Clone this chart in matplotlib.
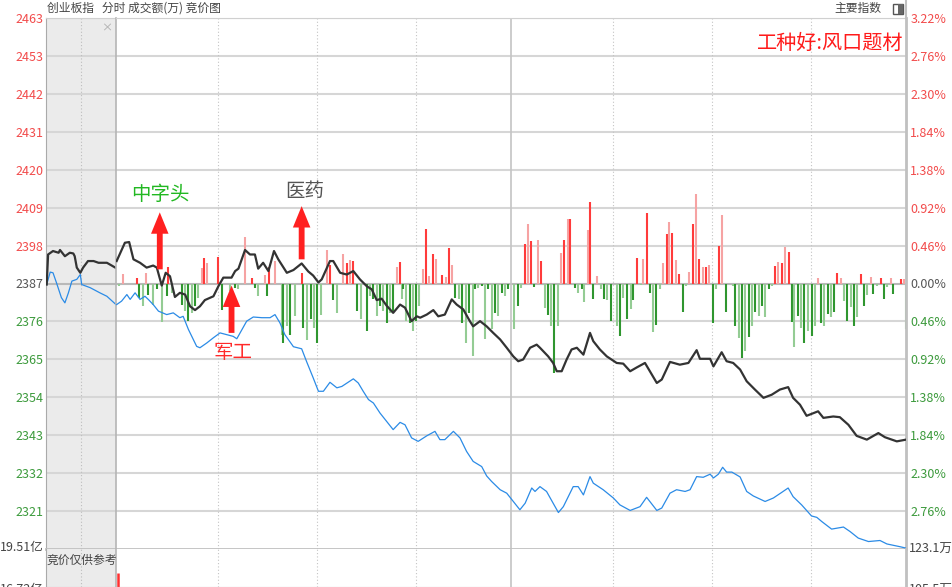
import numpy as np
import matplotlib
matplotlib.use("Agg")
import matplotlib.pyplot as plt
from matplotlib.patches import Rectangle
from matplotlib.lines import Line2D

plt.rcParams['font.family'] = ['Noto Sans CJK SC', 'DejaVu Sans']

W, H = 953, 587

pre_close = 2387.0
step = 10.98

left_labels = ['2463', '2453', '2442', '2431', '2420', '2409', '2398', '2387',
               '2376', '2365', '2354', '2343', '2332', '2321']
right_labels = ['3.22%', '2.76%', '2.30%', '1.84%', '1.38%', '0.92%', '0.46%', '0.00%',
                '0.46%', '0.92%', '1.38%', '1.84%', '2.30%', '2.76%']

# 集合竞价 9:15-9:25, minutes 0-10
auc_t = [0.1, 0.3, 1.0, 1.8, 2.0, 2.7, 3.4, 3.9, 4.1, 4.4, 4.9, 5.3, 6.0, 6.8, 7.5, 8.7, 9.9]
auc_price = [2386.7, 2395.4, 2396.4, 2395.9, 2396.7, 2394.9, 2395.9, 2395.7, 2394.9, 2391.6,
             2390.1, 2391.6, 2393.5, 2393.5, 2393.0, 2393.0, 2391.6]
auc_blue_t = [0.1, 0.6, 1.0, 1.5, 2.2, 2.7, 3.2, 3.7, 4.4, 4.9, 5.1, 6.3, 7.7, 8.7, 10.0]
auc_blue = [2386.7, 2390.3, 2390.1, 2387.2, 2382.9, 2381.4, 2384.3, 2387.7, 2388.2, 2389.6,
            2386.7, 2385.8, 2384.3, 2383.3, 2380.9]

# 分时 minutes 0-240
t_price = [0.2, 2.7, 4.0, 5.3, 7.3, 9.3, 11.3, 12.4, 13.9, 15.1,
           16.4, 17.9, 19.4, 21.0, 22.5, 24.0, 25.5, 27.0, 29.6, 31.1,
           32.6, 35.1, 36.2, 37.2, 39.2, 40.7, 42.2, 43.2, 44.7, 46.3,
           48.0, 49.3, 51.9, 53.9, 56.4, 58.4, 59.9, 61.5, 62.5, 65.0,
           66.0, 68.1, 70.1, 72.1, 74.1, 76.2, 77.7, 79.2, 80.7, 82.2,
           84.2, 86.3, 87.8, 89.8, 91.4, 92.4, 94.4, 96.4, 97.9, 99.9,
           102.0, 103.5, 105.5, 107.5, 108.5, 110.6, 112.6, 114.6, 116.7, 118.7,
           120.7, 122.2, 123.7, 125.8, 127.8, 128.8, 131.3, 132.8, 133.9, 135.4,
           136.9, 138.4, 140.0, 142.0, 144.0, 145.0, 147.0, 149.1, 152.1, 154.1,
           156.2, 158.2, 160.7, 164.3, 165.8, 168.3, 171.3, 173.9, 176.4, 177.4,
           180.5, 181.5, 184.0, 185.5, 187.5, 189.6, 191.6, 194.1, 196.7, 199.2,
           201.7, 204.2, 205.7, 207.8, 209.8, 213.3, 214.9, 217.9, 219.9, 222.5,
           225.0, 228.1, 231.6, 233.6, 237.2, 240.0]
price = [2393.5, 2398.8, 2399.0, 2394.0, 2393.0, 2391.6, 2392.2, 2391.6, 2386.4, 2390.1,
         2389.1, 2383.1, 2384.3, 2383.8, 2380.4, 2379.3, 2380.4, 2382.2, 2383.3, 2386.2,
         2388.7, 2388.7, 2390.6, 2391.3, 2396.7, 2395.4, 2395.4, 2391.3, 2393.0, 2390.6,
         2396.4, 2394.0, 2390.1, 2390.9, 2392.8, 2390.5, 2389.3, 2387.3, 2388.2, 2393.5,
         2393.5, 2390.1, 2389.6, 2390.6, 2388.2, 2386.2, 2385.3, 2382.2, 2382.6, 2380.6,
         2378.5, 2380.9, 2380.0, 2376.1, 2377.5, 2377.1, 2378.0, 2379.3, 2377.5, 2378.0,
         2382.4, 2380.9, 2379.5, 2376.1, 2374.6, 2376.1, 2374.6, 2372.7, 2370.8, 2368.4,
         2365.9, 2364.5, 2365.0, 2368.4, 2369.3, 2368.4, 2365.9, 2364.0, 2361.6, 2361.6,
         2365.0, 2367.9, 2368.4, 2366.4, 2372.7, 2370.3, 2367.9, 2365.9, 2364.0, 2363.8,
         2361.6, 2362.7, 2364.0, 2358.2, 2359.2, 2364.3, 2363.5, 2364.0, 2367.7, 2365.2,
         2365.2, 2363.0, 2367.1, 2364.5, 2364.0, 2362.1, 2358.7, 2356.3, 2353.9, 2354.8,
         2356.3, 2357.0, 2353.9, 2351.9, 2348.7, 2350.0, 2348.1, 2348.5, 2348.3, 2346.1,
         2342.9, 2341.8, 2343.7, 2342.5, 2341.3, 2341.8]

t_blue = [0.2, 1.7, 3.3, 4.3, 5.8, 7.3, 8.8, 9.8, 11.3, 12.9,
          15.4, 17.4, 19.4, 20.4, 22.0, 24.5, 25.5, 27.6, 29.6, 31.6,
          33.6, 35.6, 36.7, 37.7, 39.7, 41.7, 44.3, 46.8, 48.3, 49.8,
          51.3, 53.9, 56.4, 57.9, 59.9, 61.5, 63.0, 65.0, 67.1, 68.6,
          72.1, 73.6, 75.1, 76.7, 78.2, 80.2, 82.2, 84.2, 86.3, 87.8,
          89.8, 91.8, 94.4, 96.9, 98.4, 99.9, 102.5, 104.5, 106.5, 108.5,
          111.1, 112.6, 114.1, 116.7, 118.7, 120.7, 122.7, 124.3, 126.3, 127.3,
          128.8, 130.8, 132.8, 134.4, 135.9, 137.4, 138.9, 140.4, 142.0, 144.0,
          145.0, 148.0, 151.1, 153.1, 156.2, 159.2, 161.2, 164.3, 165.8, 168.3,
          170.3, 172.9, 174.4, 176.4, 178.4, 180.5, 181.5, 183.0, 184.3, 185.5,
          187.1, 189.6, 191.6, 193.6, 197.2, 199.7, 202.2, 204.2, 205.7, 208.3,
          211.3, 212.9, 214.4, 217.4, 221.0, 223.0, 225.5, 228.6, 232.1, 234.2,
          238.2, 240.0]
blue = [2380.9, 2381.9, 2383.8, 2382.4, 2384.3, 2382.4, 2383.3, 2382.4, 2380.9, 2379.0,
        2378.0, 2378.5, 2377.1, 2377.5, 2373.7, 2368.8, 2368.4, 2369.8, 2371.3, 2372.7,
        2372.2, 2371.7, 2371.0, 2372.7, 2376.1, 2377.3, 2377.1, 2377.1, 2378.0, 2375.6,
        2372.2, 2368.7, 2368.1, 2364.4, 2359.7, 2355.8, 2355.8, 2358.4, 2356.8, 2357.2,
        2359.4, 2358.2, 2355.8, 2353.4, 2352.4, 2349.5, 2347.1, 2344.7, 2346.8, 2346.1,
        2342.3, 2341.3, 2342.9, 2344.2, 2341.8, 2341.8, 2344.2, 2342.3, 2338.4, 2335.5,
        2334.0, 2331.3, 2329.7, 2327.3, 2326.3, 2323.9, 2321.5, 2323.4, 2327.8, 2326.8,
        2328.2, 2326.8, 2323.4, 2320.7, 2322.4, 2325.3, 2328.2, 2328.2, 2325.8, 2331.1,
        2329.2, 2327.3, 2324.9, 2322.9, 2321.3, 2322.4, 2325.1, 2321.3, 2322.0, 2326.3,
        2327.3, 2326.8, 2327.3, 2331.1, 2330.9, 2331.8, 2330.7, 2331.8, 2333.8, 2332.4,
        2332.4, 2331.0, 2326.8, 2325.5, 2323.9, 2324.9, 2326.5, 2327.8, 2325.3, 2322.9,
        2319.7, 2319.3, 2318.1, 2315.9, 2316.5, 2315.2, 2313.3, 2312.3, 2312.6, 2311.6,
        2310.8, 2310.4]

up_t = [2.0, 6.3, 9.1, 15.9, 26.0, 26.8, 27.7, 31.1, 39.2, 41.2,
        45.3, 46.6, 48.3, 56.4, 64.0, 65.0, 69.1, 70.1, 71.1, 72.1,
        85.3, 86.3, 93.2, 94.2, 95.2, 96.2, 97.1, 99.1, 100.2, 101.2,
        102.2, 124.3, 125.1, 126.1, 128.3, 129.1, 135.2, 136.1, 137.2, 138.0,
        143.3, 144.1, 146.2, 158.2, 160.0, 161.2, 166.1, 167.3, 168.1, 169.0,
        170.1, 171.1, 174.2, 175.2, 176.2, 177.2, 178.2, 179.2, 180.2, 183.3,
        184.1, 200.2, 201.2, 202.4, 203.2, 204.5, 213.4, 219.1, 220.2, 226.2,
        229.3, 232.3, 235.3, 238.4, 239.4]
up_v = [2.8, 1.5, 3.1, 4.8, 4.6, 7.5, 6.0, 7.7, 13.5, 1.7,
        2.6, 4.8, 6.5, 3.1, 9.7, 5.5, 8.4, 5.8, 6.7, 6.5,
        4.7, 6.2, 4.3, 15.7, 2.1, 8.4, 7.0, 2.4, 1.9, 10.4,
        5.5, 11.3, 17.1, 12.3, 12.5, 6.5, 8.9, 12.5, 18.6, 18.6,
        15.5, 23.6, 2.1, 7.5, 7.0, 20.5, 5.8, 14.4, 17.8, 14.7,
        6.7, 2.8, 3.3, 17.1, 26.0, 7.2, 4.8, 4.8, 5.5, 11.0,
        19.7, 5.2, 6.2, 5.8, 10.6, 9.1, 1.7, 2.9, 1.5, 2.8,
        1.9, 1.7, 1.7, 1.4, 1.4]

down_t = [1.0, 7.1, 8.3, 9.8, 11.3, 12.4, 13.9, 15.4, 16.9, 20.0,
          21.0, 22.0, 23.0, 24.0, 25.0, 32.1, 34.6, 36.2, 37.2, 42.2,
          43.2, 45.8, 50.3, 50.8, 51.9, 52.9, 54.4, 56.9, 58.1, 59.1,
          60.2, 61.2, 62.2, 66.0, 67.2, 73.1, 74.3, 76.2, 77.2, 78.2,
          79.2, 80.2, 81.2, 82.2, 83.2, 84.2, 86.8, 87.3, 88.1, 89.3,
          90.3, 91.1, 92.1, 103.0, 104.3, 105.0, 106.3, 107.3, 108.4, 109.1,
          110.1, 111.1, 112.1, 113.1, 114.1, 115.1, 116.1, 117.2, 118.2, 119.2,
          120.9, 122.2, 123.0, 127.1, 130.3, 131.2, 132.2, 133.2, 134.2, 139.4,
          140.3, 141.5, 142.3, 145.0, 147.2, 148.2, 149.1, 150.4, 152.1, 153.1,
          154.1, 155.1, 156.4, 157.2, 159.4, 162.3, 163.2, 164.0, 165.3, 172.2,
          173.2, 181.3, 182.2, 185.3, 187.3, 188.1, 189.2, 190.2, 191.2, 192.2,
          193.2, 194.2, 195.2, 196.2, 197.1, 198.3, 199.2, 205.3, 206.1, 207.3,
          208.1, 209.1, 210.3, 211.3, 212.4, 214.2, 215.2, 216.2, 217.1, 218.1,
          221.2, 222.2, 223.2, 224.3, 225.2, 227.2, 228.2, 230.0, 231.3, 233.3,
          234.1, 236.1, 240.0]
down_v = [0.8, 4.1, 6.6, 3.2, 6.1, 1.7, 11.2, 3.7, 2.7, 6.1,
          8.0, 10.9, 8.5, 6.6, 4.1, 7.7, 2.2, 1.2, 1.7, 1.2,
          3.7, 3.7, 14.8, 17.2, 12.4, 14.8, 9.5, 12.8, 16.4, 10.4,
          12.8, 17.2, 9.0, 4.8, 8.5, 8.0, 10.4, 13.8, 3.7, 4.6,
          9.5, 6.6, 8.0, 11.4, 8.5, 8.0, 4.6, 1.7, 10.9, 11.4,
          13.8, 10.9, 6.6, 4.1, 4.6, 11.4, 17.2, 8.5, 20.9, 1.7,
          1.2, 0.6, 16.2, 1.7, 13.3, 8.5, 9.5, 2.7, 3.7, 1.7,
          13.3, 6.6, 1.2, 1.0, 7.0, 9.0, 12.4, 25.9, 12.4, 1.2,
          2.7, 1.7, 5.4, 4.6, 1.7, 4.6, 4.8, 10.9, 12.4, 15.3,
          4.1, 10.4, 7.5, 4.8, 0.3, 2.7, 14.1, 11.9, 1.5, 8.3,
          0.8, 11.4, 1.5, 8.3, 0.6, 12.4, 15.7, 21.5, 19.6, 15.5,
          12.2, 8.3, 9.5, 6.6, 9.8, 1.7, 0.6, 11.2, 18.4, 9.3,
          12.8, 17.2, 13.8, 15.1, 12.2, 11.4, 12.4, 8.8, 9.7, 8.3,
          5.1, 10.9, 6.8, 12.2, 9.7, 6.4, 3.2, 2.9, 0.6, 4.6,
          1.0, 2.9, 13.3]

# 成交额 panel (亿)
vol_low, vol_high = 16.72, 19.51
vol_t = [0.6]
vol_v = [17.75]

time_grid = [31, 61, 91, 151, 181, 211]

fig = plt.figure(figsize=(W / 100, H / 100), dpi=100)
fig.patch.set_facecolor('white')


def px_axes(x0, y0, x1, y1):
    return fig.add_axes([x0 / W, 1 - y1 / H, (x1 - x0) / W, (y1 - y0) / H])


ax_auc = px_axes(46, 18, 116, 549)
ax = px_axes(116, 18, 906, 549)
ax_auc2 = px_axes(46, 549, 116, 587)
ax2 = px_axes(116, 549, 906, 587)

yticks = [pre_close + step * k for k in range(7, -7, -1)]
ylim = (pre_close - 7 * step, pre_close + 7 * step)
label_colors = ['#f24b4b'] * 7 + ['#555555'] + ['#3c9a3c'] * 6

for a in (ax_auc, ax):
    a.set_ylim(*ylim)
    for y in yticks:
        a.axhline(y, color='#b9b9b9' if y == pre_close else '#d6d6d6', lw=1.5, zorder=0)
ax_auc.set_xlim(0, 10)
ax.set_xlim(0, 240)
ax_auc2.set_xlim(0, 10)
ax2.set_xlim(0, 240)
ax_auc2.set_ylim(vol_low, vol_high)
ax2.set_ylim(vol_low, vol_high)

ax_auc.set_facecolor('#ebebeb')
ax_auc2.set_facecolor('#ebebeb')

for a in (ax_auc, ax_auc2):
    a.axvline(5, color='#bdbdbd', lw=0.8, ls=(0, (1, 2)), zorder=0)
for a in (ax, ax2):
    for t in time_grid:
        a.axvline(t, color='#c4c4c4', lw=0.8, ls=(0, (1, 2)), zorder=0)
    a.axvline(120, color='#c4c4c4', lw=1.2, zorder=0)

# bars
up_colors = ['#ff3b3b' if i % 2 else '#f6a3a3' for i in range(len(up_t))]
down_colors = ['#2f962f' if i % 2 else '#94cc94' for i in range(len(down_t))]
ax.vlines(up_t, pre_close, pre_close + np.array(up_v), colors=up_colors, lw=1.5, zorder=2)
ax.vlines(down_t, pre_close, pre_close - np.array(down_v), colors=down_colors, lw=1.5, zorder=2)

# lines
ax_auc.plot(auc_blue_t, auc_blue, color='#2b8be6', lw=0.9, zorder=3)
ax_auc.plot(auc_t, auc_price, color='#333333', lw=1.6, zorder=4)
ax.plot(t_blue, blue, color='#2b8be6', lw=0.9, zorder=3)
ax.plot(t_price, price, color='#333333', lw=1.6, zorder=4)

ax2.vlines(vol_t, vol_low, vol_v, colors='#ff3030', lw=1.8)

# axes ticks and labels
for a in (ax_auc, ax, ax_auc2, ax2):
    a.set_xticks([])
    a.tick_params(length=0)
ax_auc2.set_yticks([])
ax2.set_yticks([])

ax_auc.set_yticks(yticks)
ax_auc.set_yticklabels(left_labels, fontsize=9)
ax_auc.tick_params(axis='y', pad=2)
for lab, c in zip(ax_auc.get_yticklabels(), label_colors):
    lab.set_color(c)

ax.yaxis.tick_right()
ax.set_yticks(yticks)
ax.set_yticklabels(right_labels, fontsize=9)
ax.tick_params(axis='y', pad=3)
for lab, c in zip(ax.get_yticklabels(), label_colors):
    lab.set_color(c)

for a in (ax_auc, ax_auc2):
    a.spines['right'].set_visible(False)
    a.spines['left'].set_color('#aaaaaa')
for a in (ax, ax2):
    a.spines['left'].set_color('#b5b5b5')
    a.spines['left'].set_linewidth(1.2)
    a.spines['right'].set_color('#c0c0c0')
    a.spines['right'].set_linewidth(2)
for a in (ax_auc, ax):
    a.spines['top'].set_color('#d0d0d0')
    a.spines['bottom'].set_color('#c0c0c0')
    a.spines['bottom'].set_linewidth(2)
for a in (ax_auc2, ax2):
    a.spines['top'].set_visible(False)
    a.spines['bottom'].set_color('#c0c0c0')

fig.add_artist(Line2D([906.5 / W] * 2, [1 - 18 / H, 1], color='#c0c0c0', lw=1.5))

# annotations
arrow = dict(arrowstyle='simple,head_length=1.1,head_width=0.9,tail_width=0.3',
             color='#ff2020', lw=0, shrinkA=0, shrinkB=0, mutation_scale=14)
ax.annotate('', xy=(13.3, 2407.6), xytext=(13.3, 2391.1), arrowprops=arrow, zorder=5)
ax.annotate('', xy=(56.4, 2409.4), xytext=(56.4, 2394.0), arrowprops=arrow, zorder=5)
ax.annotate('', xy=(35.1, 2386.4), xytext=(35.1, 2372.7), arrowprops=arrow, zorder=5)
ax.text(13.5, 2412.8, '中字头', color='#22b822', fontsize=14, ha='center', va='center')
ax.text(57.4, 2413.7, '医药', color='#555555', fontsize=14, ha='center', va='center')
ax.text(35.5, 2367.0, '军工', color='#ff2a2a', fontsize=14, ha='center', va='center')

# header and labels
fig.text(47 / W, 1 - 8 / H, '创业板指   分时 成交额(万) 竞价图', fontsize=8.5, color='#444444',
         ha='left', va='center')
fig.text(881 / W, 1 - 8 / H, '主要指数', fontsize=8.5, color='#444444', ha='right', va='center')
fig.add_artist(Rectangle((893 / W, 1 - 14 / H), 10 / W, 10 / H, transform=fig.transFigure,
                         fill=False, ec='#555555', lw=1))
fig.add_artist(Rectangle((898 / W, 1 - 14 / H), 5 / W, 10 / H, transform=fig.transFigure,
                         fc='#666666', ec='none'))
fig.text(903 / W, 1 - 43 / H, '工种好:风口题材', fontsize=14.5, color='#ff1a1a',
         ha='right', va='center')
fig.text(107 / W, 1 - 28 / H, '×', fontsize=8, color='#aaaaaa', ha='center', va='center')

fig.text(44 / W, 1 - 547 / H, '19.51亿', fontsize=9, color='#444444', ha='right', va='center')
fig.text(44 / W, 1 - 590 / H, '16.72亿', fontsize=9, color='#444444', ha='right', va='center')
fig.text(909 / W, 1 - 549 / H, '123.1万', fontsize=9, color='#444444', ha='left', va='center')
fig.text(909 / W, 1 - 590 / H, '105.5万', fontsize=9, color='#444444', ha='left', va='center')
fig.text(47 / W, 1 - 560 / H, '竞价仅供参考', fontsize=8.5, color='#444444', ha='left', va='center')

fig.savefig('out.png', dpi=100)
